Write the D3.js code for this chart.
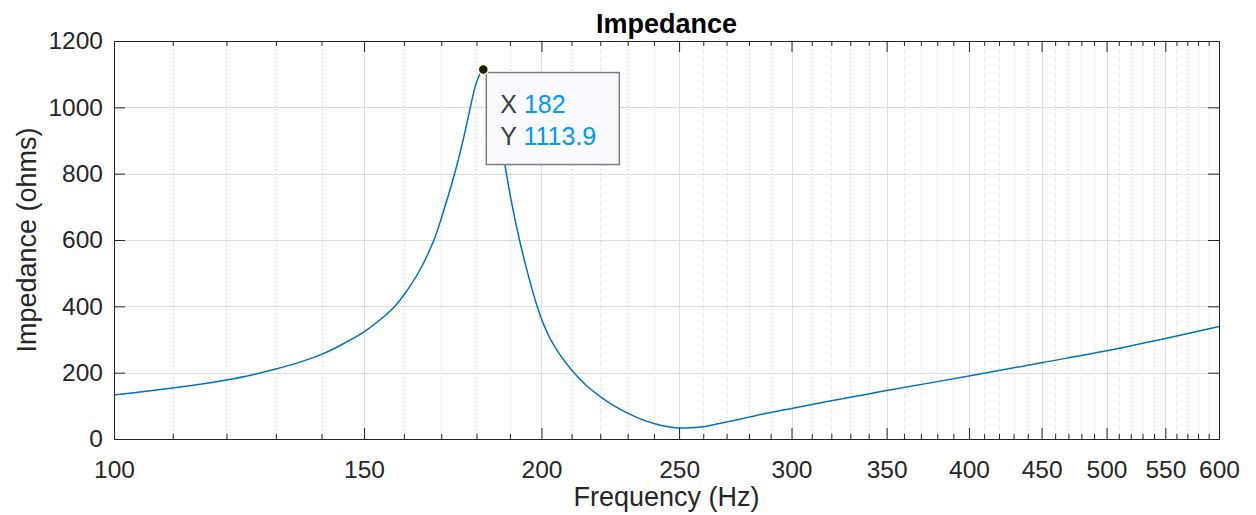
<!DOCTYPE html>
<html>
<head>
<meta charset="utf-8">
<script src="https://cdn.jsdelivr.net/npm/d3@7"></script>
<style>
  body { margin: 0; background: #fff; }
  text { font-family: "Liberation Sans", Arial, sans-serif; fill: #262626; }
</style>
</head>
<body>
<div id="chart"></div>
<script>
// impedance curve
var freqs = [100, 105, 110, 115, 120, 125, 130, 135, 140, 144.3, 150, 155, 157.7, 160, 164, 168, 170, 173.6, 176, 177.9, 180, 182,
             184, 186, 188.5, 190.5, 193, 196, 198.5, 200, 203, 206, 210, 215, 220, 225, 230, 235, 240, 245, 250, 255, 260, 265, 270, 280, 290,
             300, 310, 320, 330, 340, 350, 400, 450, 500, 550, 600];
var impedance = [133, 143, 154, 165, 178, 193, 211, 231, 255, 282, 323, 370, 400, 434, 505, 600, 665, 795, 895, 985, 1075, 1113.9,
                 1075, 975, 826, 715, 600, 485, 403, 362, 300, 255, 208, 162, 128, 100, 78, 60, 47, 38, 33, 34, 37, 44, 51, 66, 80,
                 92, 104, 115, 126, 136, 146, 190, 230, 266, 303, 339];
var xTicks = [100, 150, 200, 250, 300, 350, 400, 450, 500, 550, 600];
var yTicks = [0, 200, 400, 600, 800, 1000, 1200];
var tipFreq = 182, tipValue = 1113.9;

var width = 1256, height = 515;
var margin = {top: 41, right: 37, bottom: 76, left: 114};
var w = width - margin.left - margin.right,
    h = height - margin.top - margin.bottom;

var svg = d3.select("#chart").append("svg")
    .attr("width", width)
    .attr("height", height);

var g = svg.append("g")
    .attr("transform", "translate(" + margin.left + "," + margin.top + ")");

var x = d3.scaleLog().domain([100, 600]).range([0, w]);
var y = d3.scaleLinear().domain([0, 1200]).range([h, 0]);

// minor log ticks every 10 Hz
var minor = d3.range(110, 600, 10).filter(function(d) { return d % 50 != 0; });

// grid
g.append("g").selectAll("line.minor").data(minor).enter().append("line")
    .attr("x1", function(d) { return Math.round(x(d)) + 0.5; })
    .attr("x2", function(d) { return Math.round(x(d)) + 0.5; })
    .attr("y1", 0).attr("y2", h)
    .attr("stroke", "#c8c8c8")
    .attr("stroke-dasharray", "1,3");

g.append("g").selectAll("line.vmaj").data(xTicks.slice(1, -1)).enter().append("line")
    .attr("x1", function(d) { return Math.round(x(d)) + 0.5; })
    .attr("x2", function(d) { return Math.round(x(d)) + 0.5; })
    .attr("y1", 0).attr("y2", h)
    .attr("stroke", "#dedede");

g.append("g").selectAll("line.hmaj").data(yTicks.slice(1, -1)).enter().append("line")
    .attr("x1", 0).attr("x2", w)
    .attr("y1", function(d) { return Math.round(y(d)) + 0.5; })
    .attr("y2", function(d) { return Math.round(y(d)) + 0.5; })
    .attr("stroke", "#dedede");

// curve
var line = d3.line()
    .x(function(d, i) { return x(freqs[i]); })
    .y(function(d) { return y(d); })
    .curve(d3.curveCatmullRom.alpha(0.5));

g.append("path")
    .datum(impedance)
    .attr("d", line)
    .attr("fill", "none")
    .attr("stroke", "#0072BD")
    .attr("stroke-width", 1.5);

// axes (ticks inside, box on)
var fmt = d3.format("d");
g.append("g").attr("transform", "translate(0," + h + ")")
    .call(d3.axisBottom(x).tickValues(xTicks).tickFormat(fmt).tickSize(-11).tickPadding(22));
g.append("g")
    .call(d3.axisTop(x).tickValues(xTicks).tickFormat("").tickSize(-11));
g.append("g")
    .call(d3.axisLeft(y).tickValues(yTicks).tickFormat(fmt).tickSize(-11).tickPadding(11));
g.append("g").attr("transform", "translate(" + w + ",0)")
    .call(d3.axisRight(y).tickValues(yTicks).tickFormat("").tickSize(-11));

g.append("g").attr("transform", "translate(0," + h + ")")
    .call(d3.axisBottom(x).tickValues(minor).tickFormat("").tickSize(-5))
    .select(".domain").remove();
g.append("g")
    .call(d3.axisTop(x).tickValues(minor).tickFormat("").tickSize(-5))
    .select(".domain").remove();

g.selectAll(".domain, .tick line").attr("stroke", "#262626");
g.selectAll(".tick text")
    .attr("font-size", "24.5px")
    .attr("fill", "#262626");

// labels
svg.append("text")
    .attr("x", margin.left + w / 2).attr("y", 33)
    .attr("text-anchor", "middle")
    .attr("font-size", "27px").attr("font-weight", "bold")
    .style("fill", "#000")
    .text("Impedance");

svg.append("text")
    .attr("x", margin.left + w / 2).attr("y", 506)
    .attr("text-anchor", "middle")
    .attr("font-size", "27px")
    .text("Frequency (Hz)");

svg.append("text")
    .attr("transform", "translate(36," + (margin.top + h / 2) + ") rotate(-90)")
    .attr("text-anchor", "middle")
    .attr("font-size", "27px")
    .text("Impedance (ohms)");

// data tip
var tx = x(tipFreq), ty = y(tipValue);
var tip = g.append("g").attr("transform", "translate(" + (tx + 3) + "," + (ty + 3) + ")");
tip.append("rect")
    .attr("x", 0).attr("y", 0)
    .attr("width", 133).attr("height", 92)
    .attr("fill", "#f8f8fd")
    .attr("stroke", "#7f7f7f")
    .attr("stroke-width", 1.5);
var rows = [["X", "182"], ["Y", "1113.9"]];
rows.forEach(function(r, i) {
    var t = tip.append("text")
        .attr("x", 14).attr("y", 40 + i * 32)
        .attr("font-size", "25px");
    t.append("tspan").style("fill", "#404040").text(r[0] + " ");
    t.append("tspan").style("fill", "#0099FF").text(r[1]);
});

g.append("circle")
    .attr("cx", tx).attr("cy", ty).attr("r", 5)
    .attr("fill", "#1a1a1a")
    .attr("stroke", "#fffbc0")
    .attr("stroke-width", 1.5);
</script>
</body>
</html>
